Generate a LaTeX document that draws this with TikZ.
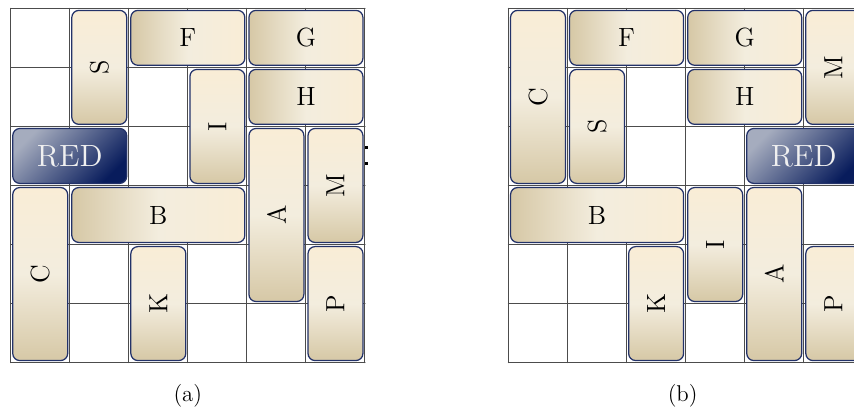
\documentclass[tikz,border=0pt]{standalone}
\usepackage{graphicx}
\usepackage{tikz}
\usepackage{xcolor}
\definecolor{cream}{RGB}{249,237,214}
\definecolor{paleband}{RGB}{243,237,222}
\definecolor{sandtan}{RGB}{214,200,166}
\definecolor{navy}{RGB}{8,28,92}
\definecolor{steelgray}{RGB}{165,172,190}
\definecolor{rimblue}{RGB}{35,50,105}
\newcommand{\uplabel}[1]{\rotatebox{90}{#1}}

\begin{document}
\begin{tikzpicture}[line cap=round,
  cellline/.style={draw=black!70,line width=0.5pt},
  car/.style={draw=rimblue,line width=0.6pt,rounded corners=0.12cm,inner sep=0pt,outer sep=0pt,font=\fontsize{12.7}{14}\selectfont},
  hcar/.style={car,minimum height=0.93cm,minimum width=#1*1cm-0.07cm,left color=sandtan,right color=cream,middle color=paleband},
  vcar/.style={car,minimum width=0.93cm,minimum height=#1*1cm-0.07cm,top color=cream,bottom color=sandtan,middle color=paleband},
  redcar/.style={car,minimum height=0.93cm,minimum width=1.93cm,top color=steelgray,bottom color=navy,shading angle=45,text=white!94!black,font=\fontsize{14.8}{16}\selectfont},
  caption/.style={font=\fontsize{11}{13}\selectfont}]
\path[use as bounding box] (-0.181,-0.837) rectangle (14.281,6.141);
\clip (-0.181,-0.837) rectangle (14.281,6.141);

% (a) starting position
\draw[cellline] (0,0) grid (6,6);
\node[vcar=2] (aS) at (1.5,5) {\uplabel{S}};
\node[hcar=2] (aF) at (3,5.5) {F};
\node[hcar=2] (aG) at (5,5.5) {G};
\node[hcar=2] (aH) at (5,4.5) {H};
\node[vcar=2] (aI) at (3.5,4) {\uplabel{I}};
\node[redcar] (aRED) at (1,3.5) {RED};
\node[vcar=3] (aA) at (4.5,2.5) {\uplabel{A}};
\node[vcar=2] (aM) at (5.5,3) {\uplabel{M}};
\node[hcar=3] (aB) at (2.5,2.5) {B};
\node[vcar=3] (aC) at (0.5,1.5) {\uplabel{C}};
\node[vcar=2] (aK) at (2.5,1) {\uplabel{K}};
\node[vcar=2] (aP) at (5.5,1) {\uplabel{P}};
% exit marks
\fill[black] (6,3.612) rectangle (6.05,3.668);
\fill[black] (6,3.346) rectangle (6.05,3.402);
\node[caption] (capa) at (3,-0.57) {(a)};

% (b) after the moves
\begin{scope}[xshift=8.43cm]
\draw[cellline] (0,0) grid (6,6);
\node[vcar=3] (bC) at (0.5,4.5) {\uplabel{C}};
\node[hcar=2] (bF) at (2,5.5) {F};
\node[hcar=2] (bG) at (4,5.5) {G};
\node[vcar=2] (bM) at (5.5,5) {\uplabel{M}};
\node[vcar=2] (bS) at (1.5,4) {\uplabel{S}};
\node[hcar=2] (bH) at (4,4.5) {H};
\node[redcar] (bRED) at (5,3.5) {RED};
\node[hcar=3] (bB) at (1.5,2.5) {B};
\node[vcar=2] (bI) at (3.5,2) {\uplabel{I}};
\node[vcar=3] (bA) at (4.5,1.5) {\uplabel{A}};
\node[vcar=2] (bK) at (2.5,1) {\uplabel{K}};
\node[vcar=2] (bP) at (5.5,1) {\uplabel{P}};
\node[caption] (capb) at (2.95,-0.57) {(b)};
\end{scope}
\end{tikzpicture}
\end{document}
